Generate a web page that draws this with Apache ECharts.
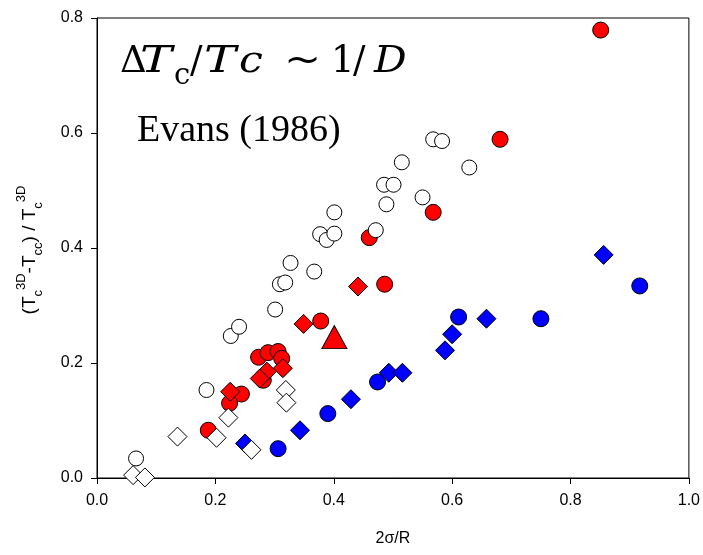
<!DOCTYPE html>
<html><head><meta charset="utf-8">
<script src="https://cdn.jsdelivr.net/npm/echarts@6/dist/echarts.min.js"></script>
<style>html,body{margin:0;padding:0;background:#fff}#c{width:703px;height:555px}</style>
</head><body><div id="c"></div>
<script>
const xTicks = [0, 0.2, 0.4, 0.6, 0.8, 1.0];
const yTicks = [0, 0.2, 0.4, 0.6, 0.8];
const openCircles = [[0.066,0.034],[0.185,0.153],[0.226,0.247],[0.240,0.263],[0.301,0.293],[0.309,0.337],[0.318,0.340],[0.327,0.374],[0.367,0.359],[0.377,0.424],[0.388,0.414],[0.401,0.425],[0.401,0.462],[0.485,0.510],[0.501,0.510],[0.489,0.476],[0.515,0.549],[0.550,0.488],[0.568,0.589],[0.583,0.586],[0.629,0.540]];
const openCirclesTop = [[0.471,0.431]];
const redCircles = [[0.460,0.418],[0.568,0.462],[0.681,0.589],[0.851,0.779],[0.486,0.337],[0.378,0.273],[0.273,0.210],[0.289,0.218],[0.306,0.220],[0.312,0.208],[0.281,0.170],[0.244,0.146],[0.224,0.130],[0.188,0.083]];
const redDiamonds = [[0.441,0.333],[0.349,0.268],[0.287,0.185],[0.314,0.191],[0.275,0.173],[0.225,0.150]];
const redTriangles = [[0.401,0.245]];
const blueDiamonds = [[0.250,0.060],[0.343,0.083],[0.429,0.137],[0.493,0.183],[0.516,0.183],[0.588,0.222],[0.600,0.250],[0.658,0.277],[0.856,0.388]];
const blueCircles = [[0.306,0.051],[0.390,0.112],[0.474,0.167],[0.611,0.280],[0.750,0.277],[0.917,0.334]];
const openDiamonds = [[0.061,0.005],[0.081,0.001],[0.136,0.072],[0.202,0.070],[0.222,0.105],[0.261,0.049],[0.319,0.153],[0.320,0.131]];

const chart = echarts.init(document.getElementById('c'), null, {renderer:'canvas'});
const border = {borderColor:'#000', borderWidth:1};
function sc(data, symbol, size, color){
  return {type:'scatter', data, symbol, symbolSize:size, itemStyle:Object.assign({color, opacity:1}, border), emphasis:{disabled:true}};
}
const F = 'Liberation Sans';
const SERIF = '"Liberation Serif"';
const MATH = '"DejaVu Serif"';
function glyph(t, x, top, size, italic, sx){
  return {type:'text', x, y:top, scaleX:sx||1, style:{text:t, font:(italic?'italic ':'')+size+'px '+MATH, fill:'#000', align:'left', verticalAlign:'top'}};
}
const T0 = 44;
chart.setOption({
  animation:false,
  grid:{left:97, right:14, top:18, bottom:77, show:true, borderColor:'#000', borderWidth:1, backgroundColor:'transparent'},
  xAxis:{type:'value', min:0, max:1, interval:0.2, splitLine:{show:false},
    axisLine:{show:true, onZero:false, lineStyle:{color:'#000'}},
    axisTick:{show:true, length:6, lineStyle:{color:'#000'}},
    axisLabel:{color:'#000', fontFamily:F, fontSize:16, margin:15, formatter:v=>v.toFixed(1)},
    name:'2σ/R', nameLocation:'middle', nameGap:53, nameTextStyle:{color:'#000', fontFamily:F, fontSize:16}},
  yAxis:{type:'value', min:0, max:0.8, interval:0.2, splitLine:{show:false},
    axisLine:{show:true, onZero:false, lineStyle:{color:'#000'}},
    axisTick:{show:true, length:6, lineStyle:{color:'#000'}},
    axisLabel:{color:'#000', fontFamily:F, fontSize:16, margin:14, formatter:v=>v.toFixed(1)}},
  graphic:[
    glyph('Δ', 120, T0, 37, false),
    glyph('T', 140, T0, 37, true, 1.3),
    glyph('c', 174, T0+18, 29, false),
    glyph('/', 190, T0, 37, false),
    glyph('T', 204, T0, 37, true, 1.3),
    glyph('c', 239, T0, 37, true, 1.15),
    glyph('~', 284, T0, 37, false, 1.2),
    glyph('1', 331, T0, 37, false),
    glyph('/', 353, T0, 37, false),
    glyph('D', 374, T0, 37, true, 1.1),
    {type:'text', left:137, top:112, style:{text:'Evans (1986)', font:'38px '+SERIF, fill:'#000'}},
    {type:'text', x:30, y:250, rotation:Math.PI/2,
      style:{text:'{m|(T}{sub|c}{sup|3D}{m|-T}{sub|cc}{m|) / T}{sub|c}{sup|3D}', align:'center', verticalAlign:'middle',
        rich:{m:{fontFamily:F, fontSize:19, lineHeight:30, verticalAlign:'middle', fill:'#000'},
              sub:{fontFamily:F, fontSize:13, lineHeight:30, verticalAlign:'bottom', fill:'#000'},
              sup:{fontFamily:F, fontSize:13, lineHeight:30, verticalAlign:'top', fill:'#000'}}}}
  ],
  series:[
    sc(openCircles,'circle',15,'#fff'),
    sc(redCircles,'circle',16,'#ff0000'),
    sc(openCirclesTop,'circle',15,'#fff'),
    sc(redDiamonds,'diamond',19,'#ff0000'),
    sc(redTriangles,'triangle',[25,23],'#ff0000'),
    sc(blueDiamonds,'diamond',19,'#0000ff'),
    sc(blueCircles,'circle',16,'#0000ff'),
    sc(openDiamonds,'diamond',19,'#fff')
  ]
});
</script></body></html>
